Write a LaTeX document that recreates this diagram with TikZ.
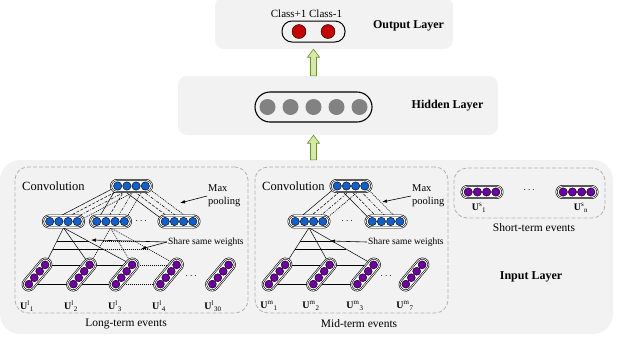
\documentclass[tikz,border=0pt]{standalone}
\usepackage{amsmath}
\usepackage{fontspec}
\setmainfont{Liberation Serif}
\usetikzlibrary{calc,arrows.meta}
\pgfdeclarelayer{panel}
\pgfdeclarelayer{wires}
\pgfsetlayers{panel,wires,main}
\definecolor{panelgray}{RGB}{242,242,242}
\definecolor{dotblue}{RGB}{20,95,200}
\definecolor{dotpurple}{RGB}{110,0,160}
\definecolor{dotred}{RGB}{195,0,0}
\definecolor{dotgray}{RGB}{130,130,130}
\definecolor{arrowfill}{RGB}{214,234,168}
\definecolor{arrowdraw}{RGB}{105,145,45}
\tikzset{
  layerbox/.style={fill=panelgray, rounded corners=9pt, inner sep=0pt},
  groupbox/.style={draw=black!30, dash pattern=on 4pt off 2pt, line width=.8pt, rounded corners=13pt, inner sep=0pt},
  capsule/.style={draw=black, double=white, double distance=.7pt, line width=.6pt, fill=white, rounded corners=6pt, minimum width=41pt, minimum height=12pt, inner sep=0pt},
  dot/.style={circle, draw=black, line width=.4pt, minimum size=8.4pt, inner sep=0pt},
  layername/.style={font=\bfseries\fontsize{12}{14}\selectfont},
  groupname/.style={font=\fontsize{11.5}{14}\selectfont},
  smalltxt/.style={font=\fontsize{10.5}{13}\selectfont, inner sep=1pt},
  ulbl/.style={font=\fontsize{10}{12}\selectfont, inner sep=0pt},
  pointer/.style={line width=.6pt, -{Latex[length=5pt,width=3.5pt]}},
  wsolid/.style={line width=.5pt},
  wdash/.style={line width=.5pt, dash pattern=on 3pt off 1.5pt},
  wdashdot/.style={line width=.5pt, dash pattern=on 3pt off 1.5pt on 1pt off 1.5pt},
  wdot/.style={line width=.6pt, dash pattern=on 1pt off 1pt}
}
% horizontal capsule with four dots
\newcommand{\hcaps}[4]{%
  \node[capsule] (#1) at (#2,#3) {};
  \foreach \k in {1,...,4}
    \node[dot, fill=#4] (#1-\k) at ($(#1)+({(\k-2.5)*9.2},0)$) {};
}
% slanted capsule with four dots
\newcommand{\dcaps}[3]{%
  \node[capsule, rotate=50, minimum width=38pt] (#1) at (#2,#3) {};
  \foreach \k in {1,...,4}
    \node[dot, fill=dotpurple, minimum size=8pt] (#1-\k) at ($(#1)+({(\k-2.5)*8.4*cos(50)},{-(\k-2.5)*8.4*sin(50)})$) {};
}
% event label U^a_b
\newcommand{\ev}[2]{$\textbf{U}^{\text{#1}}{}_{\text{#2}}$}
% hollow green arrow
\newcommand{\fatarrow}[2]{%
  \filldraw[fill=arrowfill, draw=arrowdraw, line width=.6pt]
    let \p1=(#1), \p2=(#2) in
    (\x1-3pt,\y1) -- (\x1-3pt,\y2-8pt) -- (\x1-6pt,\y2-8pt) -- (\x1,\y2)
    -- (\x1+6pt,\y2-8pt) -- (\x1+3pt,\y2-8pt) -- (\x1+3pt,\y1) -- cycle;
}
\begin{document}
\begin{tikzpicture}[x=1pt,y=-1pt]
  \useasboundingbox (0,0) rectangle (618,341);
  % panels
  \begin{pgfonlayer}{panel}
    \node[layerbox, minimum width=238pt, minimum height=52pt] (outbox) at (334,23) {};
    \node[layerbox, minimum width=320pt, minimum height=59pt] (hidbox) at (338,105.5) {};
    \node[layerbox, rounded corners=20pt, minimum width=613pt, minimum height=174pt] (inbox) at (306.5,247) {};
    \node[groupbox, minimum width=233pt, minimum height=146pt] (longbox) at (131.5,240) {};
    \node[groupbox, minimum width=193pt, minimum height=146pt] (midbox) at (351.5,240) {};
    \node[groupbox, minimum width=151pt, minimum height=50pt] (shortbox) at (529.5,193) {};
  \end{pgfonlayer}

  % output layer
  \node[draw, line width=1pt, rounded corners=10pt, minimum width=63pt, minimum height=21pt] (outcap) at (313.5,31.5) {};
  \node[dot, fill=dotred, minimum size=14pt] (out-1) at (299,31.5) {};
  \node[dot, fill=dotred, minimum size=14pt] (out-2) at (328,31.5) {};
  \node[font=\fontsize{11}{13}\selectfont] (classtxt) at (306.5,14) {Class+1 Class-1};
  \node[layername] at (408.5,26) {Output Layer};

  % hidden layer
  \node[draw, line width=1.1pt, rounded corners=15pt, minimum width=117pt, minimum height=30pt] (hidcap) at (313.5,107) {};
  \foreach \k in {1,...,5}
    \node[circle, fill=dotgray, minimum size=16pt, inner sep=0pt] (hid-\k) at ({313.5+(\k-3)*23},107) {};
  \node[layername] at (447.5,106) {Hidden Layer};

  \fatarrow{hidcap.north |- hidbox.north}{outcap.south |- outbox.south}
  \fatarrow{hidcap.south |- inbox.north}{hidcap.south |- hidbox.south}

  % long-term events
  \node[anchor=west, font=\fontsize{12.5}{14}\selectfont, inner sep=1pt] at (21,186) {Convolution};
  \hcaps{lpool}{131.5}{186}{dotblue}
  \hcaps{lc1}{63.5}{221.5}{dotblue}
  \hcaps{lc2}{110.5}{221.5}{dotblue}
  \hcaps{lc3}{179}{221.5}{dotblue}
  \node at (142,221) {$\cdots$};
  \dcaps{lu1}{37}{274.5}
  \dcaps{lu2}{81.5}{274.5}
  \dcaps{lu3}{124}{274.5}
  \dcaps{lu4}{168.5}{274.5}
  \dcaps{lu30}{220.5}{274.5}
  \node at (192,276) {$\cdots$};
  \node[ulbl] at (27,306) {\ev{l}{1}};
  \node[ulbl] at (71,306) {\ev{l}{2}};
  \node[ulbl] at (115,306) {\ev{l}{3}};
  \node[ulbl] at (159,306) {\ev{l}{4}};
  \node[ulbl] at (213,306) {\ev{l}{30}};
  \node[groupname] at (126,324) {Long-term events};
  \node[smalltxt, anchor=west, align=left] (lmaxtxt) at (207,196) {Max\\pooling};
  \coordinate (lmaxhit) at (180,203);
  \draw[pointer] (lmaxtxt.west) -- (lmaxhit);
  \node[font=\fontsize{9.5}{12}\selectfont, anchor=west, inner sep=1pt] (lsharetxt) at (167,242) {Share same weights};
  \coordinate (lshare1) at (91,240);
  \coordinate (lshare2) at (141,249);
  \draw[pointer] (lsharetxt.west) -- (lshare1);
  \draw[pointer] (lsharetxt.west) -- (lshare2);

  % mid-term events
  \node[anchor=west, font=\fontsize{12.5}{14}\selectfont, inner sep=1pt] at (261,186) {Convolution};
  \hcaps{mpool}{351}{186}{dotblue}
  \hcaps{mc1}{309}{221.5}{dotblue}
  \hcaps{mc2}{386}{221.5}{dotblue}
  \node at (348,221) {$\cdots$};
  \dcaps{mu1}{277}{274.5}
  \dcaps{mu2}{321.5}{274.5}
  \dcaps{mu3}{365.5}{274.5}
  \dcaps{mu7}{414}{274.5}
  \node at (387,276) {$\cdots$};
  \node[ulbl] at (269,306) {\ev{m}{1}};
  \node[ulbl] at (311,306) {\ev{m}{2}};
  \node[ulbl] at (355,306) {\ev{m}{3}};
  \node[ulbl] at (405,306) {\ev{m}{7}};
  \node[groupname] at (359,324) {Mid-term events};
  \node[smalltxt, anchor=west, align=left] (mmaxtxt) at (411,196) {Max\\pooling};
  \coordinate (mmaxhit) at (382,202);
  \draw[pointer] (mmaxtxt.west) -- (mmaxhit);
  \node[font=\fontsize{9.5}{12}\selectfont, anchor=west, inner sep=1pt] (msharetxt) at (367,242) {Share same weights};
  \coordinate (mshare1) at (330,241);
  \draw[pointer] (msharetxt.west) -- (mshare1);

  % short-term events
  \hcaps{s1}{482}{192}{dotpurple}
  \hcaps{sn}{577}{192}{dotpurple}
  \node at (530,190) {$\cdots$};
  \node[ulbl] at (479,208) {\ev{s}{1}};
  \node[ulbl] at (581,208) {\ev{s}{n}};
  \node[groupname] at (534,228) {Short-term events};
  \node[layername] at (531,277) {Input Layer};

  % connections
  \begin{pgfonlayer}{wires}
    \foreach \p/\c in {lpool/lc1,lpool/lc2,lpool/lc3,mpool/mc1,mpool/mc2} {
      \draw[wsolid] (\p-1) -- (\c-1);
      \draw[wdash] (\p-2) -- (\c-2);
      \draw[wdashdot] (\p-3) -- (\c-3);
      \draw[wdot] (\p-4) -- (\c-4);
    }
    % window 1, long-term
    \foreach \u in {lu1,lu2,lu3} \draw[wsolid] (lc1.south) -- (\u-4);
    \draw[wsolid] (lu1-4) -- (lu3-4);
    \draw[wsolid] (lu1-1) -- (lu3-1);
    \draw[wsolid] ($(lc1.south)!.37!(lu1-4)$) -- ($(lc1.south)!.37!(lu3-4)$);
    \draw[wsolid] ($(lc1.south)!.57!(lu1-4)$) -- ($(lc1.south)!.57!(lu3-4)$);
    % window 2, long-term
    \foreach \u in {lu2,lu3,lu4} \draw[wdot] (lc2.south) -- (\u-4);
    \draw[wdot] (lu2-4) -- (lu4-4);
    \draw[wdot] (lu2-1) -- (lu4-1);
    \draw[wdot] ($(lc2.south)!.37!(lu2-4)$) -- ($(lc2.south)!.37!(lu4-4)$);
    \draw[wdot] ($(lc2.south)!.57!(lu2-4)$) -- ($(lc2.south)!.57!(lu4-4)$);
    % window 1, mid-term
    \foreach \u in {mu1,mu2,mu3} \draw[wsolid] (mc1.south) -- (\u-4);
    \draw[wsolid] (mu1-4) -- (mu3-4);
    \draw[wsolid] (mu1-1) -- (mu3-1);
    \draw[wsolid] ($(mc1.south)!.37!(mu1-4)$) -- ($(mc1.south)!.37!(mu3-4)$);
    \draw[wsolid] ($(mc1.south)!.57!(mu1-4)$) -- ($(mc1.south)!.57!(mu3-4)$);
  \end{pgfonlayer}
\end{tikzpicture}
\end{document}
